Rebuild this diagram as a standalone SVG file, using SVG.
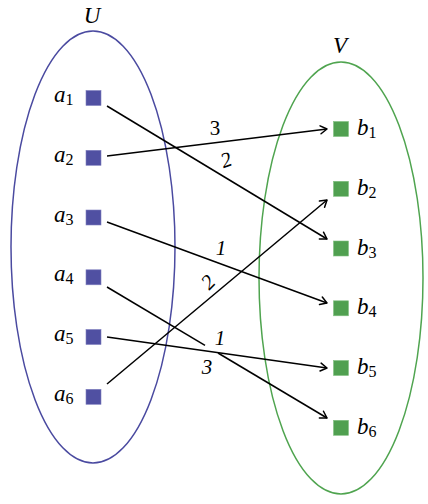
<svg xmlns="http://www.w3.org/2000/svg" width="428" height="504" viewBox="0 0 428 504">
<defs>
<marker id="arr" markerUnits="userSpaceOnUse" markerWidth="14" markerHeight="14" refX="0" refY="0" viewBox="-8 -7 10 14" orient="auto" overflow="visible">
<path d="M-6.5,-4 L0,0 L-6.5,4" fill="none" stroke="#000" stroke-width="1.5" stroke-linecap="round" stroke-linejoin="round"/>
</marker>
<style>
.lbl{font-family:"Liberation Serif","DejaVu Serif",serif;font-style:italic;font-size:23px;fill:#000}
.sub{font-size:16px;font-style:normal}
.el{font-family:"Liberation Serif","DejaVu Serif",serif;font-style:italic;font-size:21px;fill:#000;text-anchor:middle}
.up{font-style:normal}
.sa{fill:#5050a2;stroke:#8080c0;stroke-width:0.6}
.sb{fill:#50a050;stroke:#80c080;stroke-width:0.6}
.edge{fill:none;stroke:#000;stroke-width:1.5}
</style>
</defs>
<rect width="428" height="504" fill="#fff"/>
<g id="U">
<ellipse cx="93" cy="247" rx="82" ry="216" fill="none" stroke="#4a4aa0" stroke-width="1.5"/>
<text class="lbl" x="92" y="23" text-anchor="middle">U</text>
</g>
<g id="V">
<ellipse cx="341" cy="278" rx="82" ry="216" fill="none" stroke="#4fa44f" stroke-width="1.5"/>
<text class="lbl" x="340" y="53" text-anchor="middle">V</text>
</g>
<g id="a1"><rect class="sa" x="86" y="90.5" width="15" height="15"/><text class="lbl" x="54" y="102">a<tspan class="sub" dy="3">1</tspan></text></g>
<g id="a2"><rect class="sa" x="86" y="150.3" width="15" height="15"/><text class="lbl" x="54" y="162">a<tspan class="sub" dy="3">2</tspan></text></g>
<g id="a3"><rect class="sa" x="86" y="210" width="15" height="15"/><text class="lbl" x="54" y="221.5">a<tspan class="sub" dy="3">3</tspan></text></g>
<g id="a4"><rect class="sa" x="86" y="269.8" width="15" height="15"/><text class="lbl" x="54" y="281.3">a<tspan class="sub" dy="3">4</tspan></text></g>
<g id="a5"><rect class="sa" x="86" y="329.5" width="15" height="15"/><text class="lbl" x="54" y="341">a<tspan class="sub" dy="3">5</tspan></text></g>
<g id="a6"><rect class="sa" x="86" y="389.3" width="15" height="15"/><text class="lbl" x="54" y="400.8">a<tspan class="sub" dy="3">6</tspan></text></g>
<g id="b1"><rect class="sb" x="333.5" y="121.5" width="15" height="15"/><text class="lbl" x="357" y="135">b<tspan class="sub" dy="3">1</tspan></text></g>
<g id="b2"><rect class="sb" x="333.5" y="181.3" width="15" height="15"/><text class="lbl" x="357" y="194.8">b<tspan class="sub" dy="3">2</tspan></text></g>
<g id="b3"><rect class="sb" x="333.5" y="241" width="15" height="15"/><text class="lbl" x="357" y="254.5">b<tspan class="sub" dy="3">3</tspan></text></g>
<g id="b4"><rect class="sb" x="333.5" y="300.8" width="15" height="15"/><text class="lbl" x="357" y="314.3">b<tspan class="sub" dy="3">4</tspan></text></g>
<g id="b5"><rect class="sb" x="333.5" y="360.5" width="15" height="15"/><text class="lbl" x="357" y="374">b<tspan class="sub" dy="3">5</tspan></text></g>
<g id="b6"><rect class="sb" x="333.5" y="420.3" width="15" height="15"/><text class="lbl" x="357" y="433.8">b<tspan class="sub" dy="3">6</tspan></text></g>
<g id="connectors">
<line class="edge" x1="107" y1="106" x2="327" y2="239" marker-end="url(#arr)"/>
<line class="edge" x1="107" y1="156" x2="327" y2="129" marker-end="url(#arr)"/>
<line class="edge" x1="107" y1="222" x2="327" y2="303" marker-end="url(#arr)"/>
<line class="edge" x1="107" y1="287" x2="205" y2="345.3"/>
<line class="edge" x1="218" y1="353" x2="327" y2="418" marker-end="url(#arr)"/>
<line class="edge" x1="107" y1="337" x2="327" y2="368" marker-end="url(#arr)"/>
<line class="edge" x1="107" y1="384" x2="327" y2="200" marker-end="url(#arr)"/>
<text class="el up" x="215" y="135">3</text>
<text class="el" transform="translate(226,160) rotate(-20)" y="7">2</text>
<text class="el" x="221" y="255">1</text>
<text class="el" transform="translate(208,282) rotate(-45)" y="7">2</text>
<text class="el" x="220" y="345">1</text>
<text class="el" x="207" y="374">3</text>
</g>
</svg>
